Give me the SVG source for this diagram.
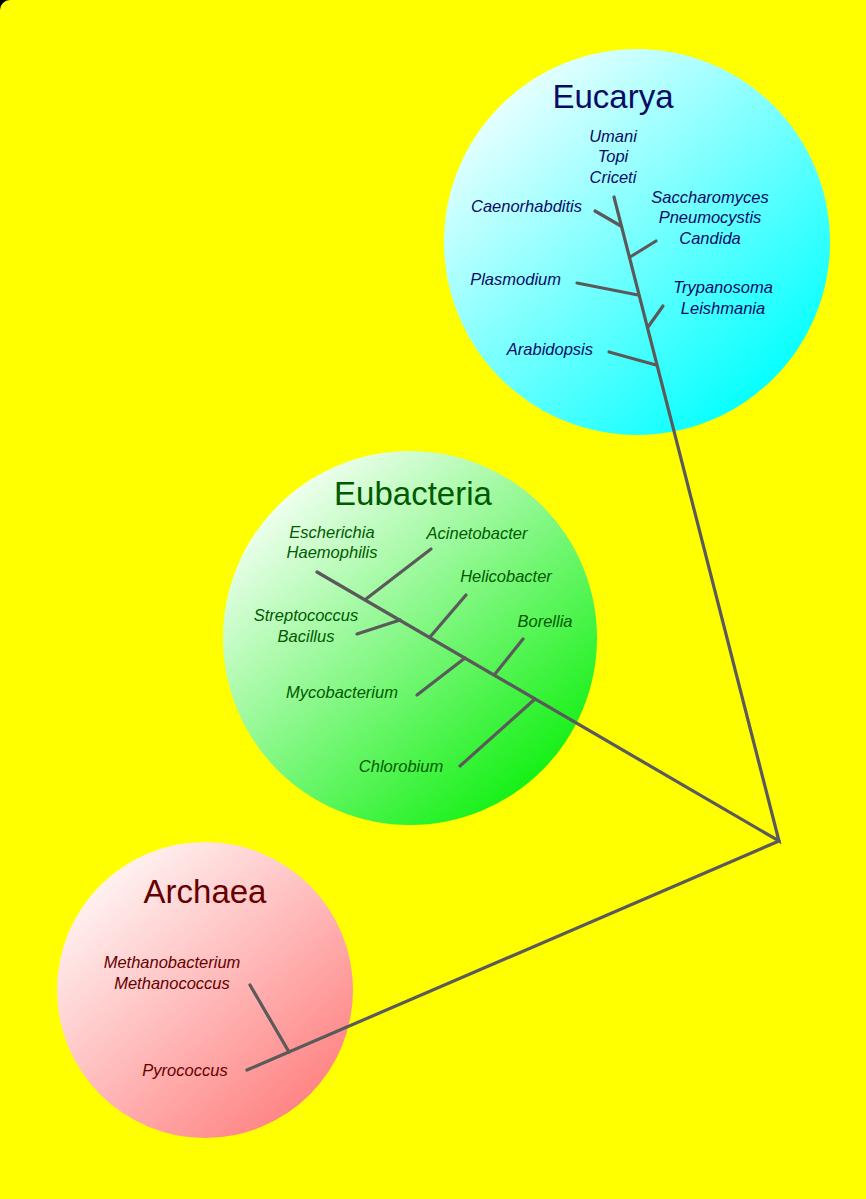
<svg xmlns="http://www.w3.org/2000/svg" width="866" height="1199" viewBox="0 0 866 1199">
<style>
.sp{font-family:"Liberation Sans",Arial,sans-serif;font-style:italic;font-size:16.5px}
.tt{font-family:"Liberation Sans",Arial,sans-serif;font-size:33px;text-anchor:middle}
.eu{fill:#0b0b66}.bac{fill:#005a00}.ar{fill:#660000}
.c{text-anchor:middle}.r{text-anchor:end}
.ln{stroke:#5a5a5a;stroke-width:3.2;fill:none;stroke-linecap:round;stroke-miterlimit:10}
</style>
<defs>
<linearGradient id="gEu" x1="0.15" y1="0.1" x2="0.85" y2="0.9">
<stop offset="0" stop-color="#ecffff"/><stop offset="1" stop-color="#00ffff"/></linearGradient>
<linearGradient id="gBa" x1="0.15" y1="0.1" x2="0.85" y2="0.9">
<stop offset="0" stop-color="#f4fff4"/><stop offset="1" stop-color="#10f010"/></linearGradient>
<linearGradient id="gAr" x1="0.15" y1="0.1" x2="0.85" y2="0.9">
<stop offset="0" stop-color="#fff4f4"/><stop offset="1" stop-color="#ff8282"/></linearGradient>
</defs>
<rect x="0" y="0" width="866" height="1199" fill="#000"/>
<path d="M10 0H866V1199H0V10A10 10 0 0 1 10 0Z" fill="#ffff00"/>
<g id="eucarya">
<circle cx="637" cy="242" r="193" fill="url(#gEu)"/>
<text class="tt eu" x="613" y="108">Eucarya</text>
<text class="sp eu c" x="613" y="142">Umani</text>
<text class="sp eu c" x="613" y="162">Topi</text>
<text class="sp eu c" x="613" y="183">Criceti</text>
<text class="sp eu r" x="582" y="212">Caenorhabditis</text>
<text class="sp eu c" x="710" y="203">Saccharomyces</text>
<text class="sp eu c" x="710" y="223">Pneumocystis</text>
<text class="sp eu c" x="710" y="244">Candida</text>
<text class="sp eu r" x="561" y="285">Plasmodium</text>
<text class="sp eu c" x="723" y="293">Trypanosoma</text>
<text class="sp eu c" x="723" y="314">Leishmania</text>
<text class="sp eu r" x="593" y="355">Arabidopsis</text>
</g>
<g id="eubacteria">
<circle cx="410" cy="638" r="187" fill="url(#gBa)"/>
<text class="tt bac" x="413" y="505">Eubacteria</text>
<text class="sp bac c" x="332" y="538">Escherichia</text>
<text class="sp bac c" x="332" y="558">Haemophilis</text>
<text class="sp bac c" x="477" y="539">Acinetobacter</text>
<text class="sp bac c" x="506" y="582">Helicobacter</text>
<text class="sp bac c" x="306" y="621">Streptococcus</text>
<text class="sp bac c" x="306" y="642">Bacillus</text>
<text class="sp bac c" x="545" y="627">Borellia</text>
<text class="sp bac c" x="342" y="698">Mycobacterium</text>
<text class="sp bac c" x="401" y="772">Chlorobium</text>
</g>
<g id="archaea">
<circle cx="205" cy="990" r="148" fill="url(#gAr)"/>
<text class="tt ar" x="205" y="903">Archaea</text>
<text class="sp ar c" x="172" y="968">Methanobacterium</text>
<text class="sp ar c" x="172" y="989">Methanococcus</text>
<text class="sp ar c" x="185" y="1076">Pyrococcus</text>
</g>
<g id="connectors" class="ln">
<polyline points="317,572 779,841 614,197"/>
<line x1="779" y1="841" x2="247" y2="1070"/>
<line x1="595" y1="211" x2="621" y2="226"/>
<line x1="656" y1="241" x2="630" y2="257"/>
<line x1="577" y1="283" x2="638" y2="295"/>
<line x1="663" y1="306" x2="648" y2="327"/>
<line x1="609" y1="352" x2="656" y2="365"/>
<line x1="431" y1="549" x2="366" y2="599"/>
<line x1="357" y1="634" x2="400" y2="620"/>
<line x1="466" y1="595" x2="430" y2="637"/>
<line x1="417" y1="695" x2="465" y2="658"/>
<line x1="523" y1="639" x2="495" y2="674"/>
<line x1="460" y1="766" x2="535" y2="699"/>
<line x1="250" y1="985" x2="289" y2="1052"/>
</g>
</svg>
